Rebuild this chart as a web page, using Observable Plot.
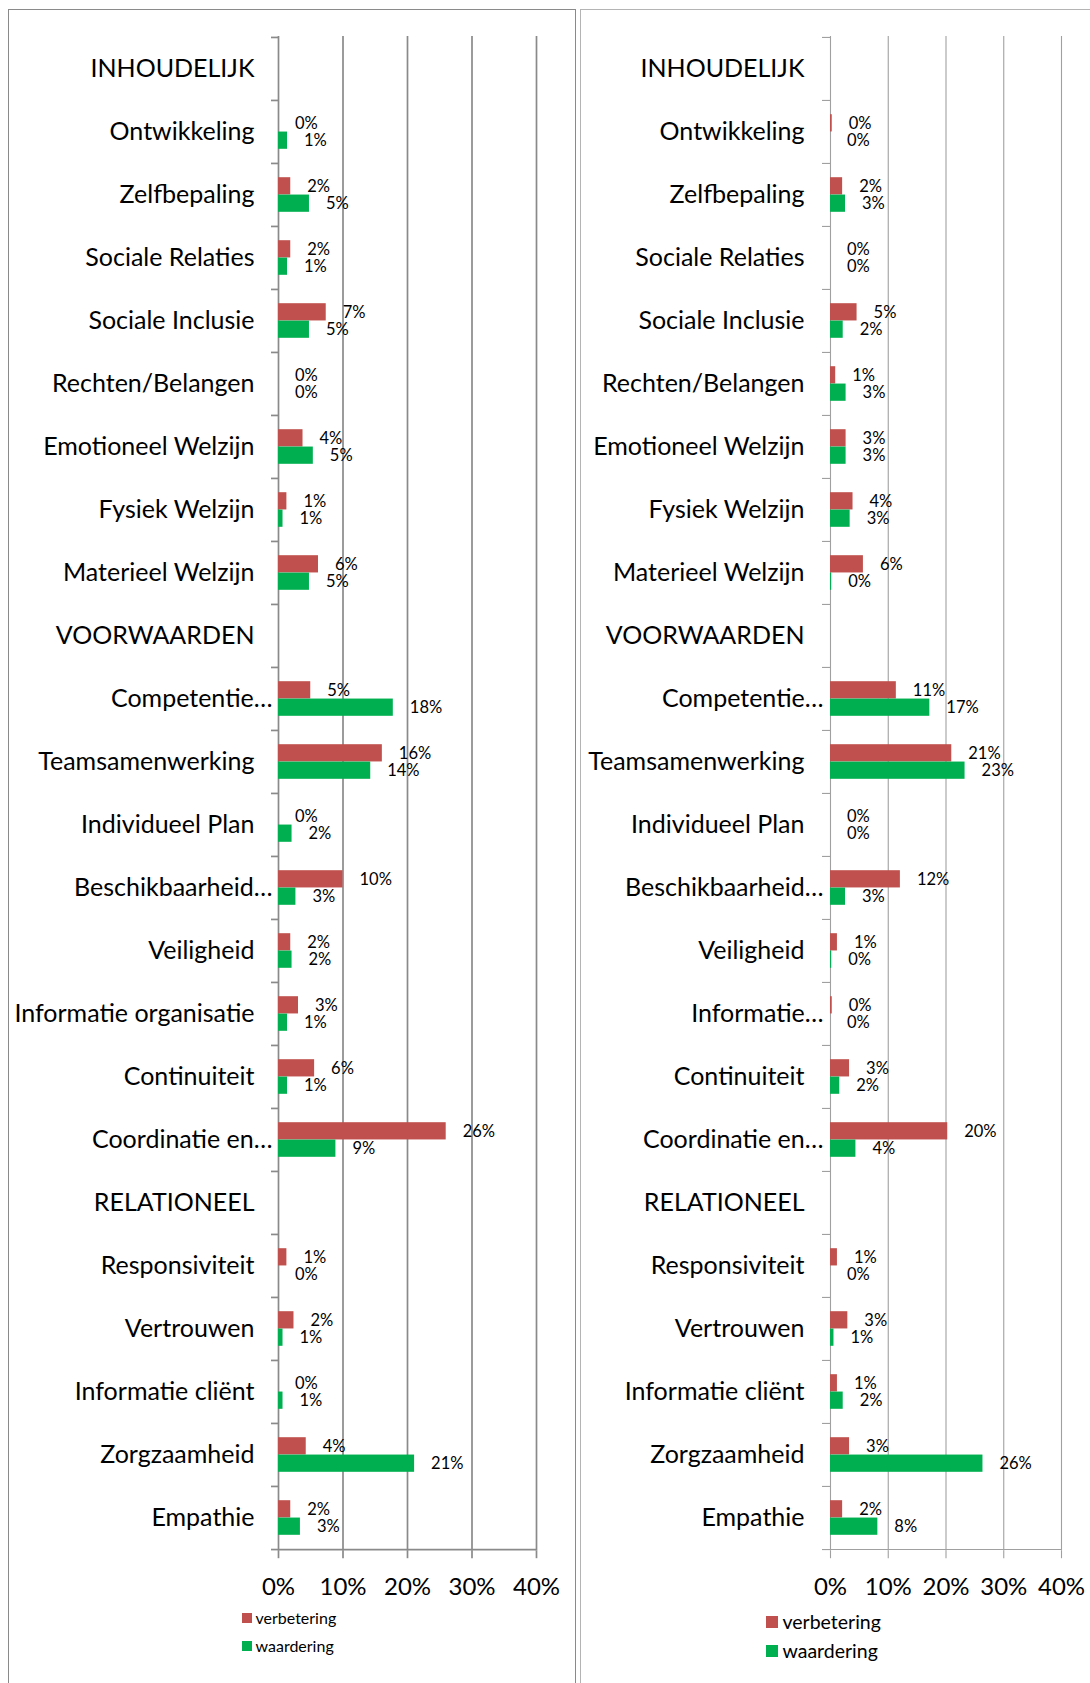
<!DOCTYPE html>
<html>
<head>
<meta charset="utf-8">
<script src="https://cdn.jsdelivr.net/npm/d3@7"></script>
<script src="https://cdn.jsdelivr.net/npm/@observablehq/plot@0.6"></script>
<style>
  html, body { margin: 0; padding: 0; background: #fff; }
  #page { position: relative; width: 1090px; height: 1683px; overflow: hidden; font-family: Lato, sans-serif; }
  .panel { position: absolute; box-sizing: border-box; }
  .chart { position: absolute; top: 0; }
  .legend { position: absolute; color: #000; }
  .legend .row { position: absolute; left: 0; white-space: nowrap; display: flex; align-items: center; }
  .legend .sw { display: inline-block; }
</style>
</head>
<body>
<div id="page">
  <div class="panel" style="left:8px; top:9px; width:568px; height:1700px; border:1.5px solid #8a8a8a; border-bottom:none;"></div>
  <div class="panel" style="left:580px; top:9px; width:540px; height:1700px; border:1.5px solid #b4b4b4; border-bottom:none;"></div>
  <div id="left" class="chart" style="left:0px;"></div>
  <div id="right" class="chart" style="left:581px;"></div>
  <div id="legL" class="legend" style="left:242px; top:1608px; font-size:16px;"></div>
  <div id="legR" class="legend" style="left:766px; top:1610px; font-size:19.5px;"></div>
</div>
<script>
// ---------- data ----------
const leftLabels = ["INHOUDELIJK","Ontwikkeling","Zelfbepaling","Sociale Relaties","Sociale Inclusie","Rechten/Belangen","Emotioneel Welzijn","Fysiek Welzijn","Materieel Welzijn","VOORWAARDEN","Competentie…","Teamsamenwerking","Individueel Plan","Beschikbaarheid…","Veiligheid","Informatie organisatie","Continuiteit","Coordinatie en…","RELATIONEEL","Responsiviteit","Vertrouwen","Informatie cliënt","Zorgzaamheid","Empathie"];
const rightLabels = ["INHOUDELIJK","Ontwikkeling","Zelfbepaling","Sociale Relaties","Sociale Inclusie","Rechten/Belangen","Emotioneel Welzijn","Fysiek Welzijn","Materieel Welzijn","VOORWAARDEN","Competentie…","Teamsamenwerking","Individueel Plan","Beschikbaarheid…","Veiligheid","Informatie…","Continuiteit","Coordinatie en…","RELATIONEEL","Responsiviteit","Vertrouwen","Informatie cliënt","Zorgzaamheid","Empathie"];

// percentages (null = section header without bars)
const leftVerbetering = [null, 0, 1.9, 1.9, 7.4, 0, 3.8, 1.3, 6.2, null, 5.0, 16.1, 0, 10.0, 1.9, 3.1, 5.6, 26.0, null, 1.3, 2.4, 0, 4.3, 1.9];
const leftWaardering  = [null, 1.4, 4.8, 1.4, 4.8, 0, 5.4, 0.7, 4.8, null, 17.8, 14.3, 2.1, 2.7, 2.1, 1.4, 1.4, 8.9, null, 0, 0.7, 0.7, 21.1, 3.4];
const rightVerbetering = [null, 0.3, 2.1, 0, 4.6, 0.9, 2.7, 3.9, 5.7, null, 11.4, 21.0, 0, 12.1, 1.2, 0.3, 3.3, 20.3, null, 1.2, 3.0, 1.2, 3.3, 2.1];
const rightWaardering  = [null, 0, 2.6, 0, 2.2, 2.7, 2.7, 3.4, 0.2, null, 17.2, 23.3, 0, 2.6, 0.2, 0, 1.6, 4.4, null, 0, 0.6, 2.2, 26.4, 8.2];

const xTicks = [0, 10, 20, 30, 40];
const seriesNames = ["verbetering", "waardering"];
const seriesColors = ["#C0504D", "#00B050"];

// ---------- drawing ----------
function panel(labels, verb, waard, opts) {
  const H = 1610, mt = 36, mb = H - 1550.7;
  const bw = (H - mt - mb) / labels.length;
  const barH = bw * 0.275;
  const gap = (bw - 2 * barH) / 2;
  const rows = labels.map((c, i) => ({cat: c, verb: verb[i], waard: waard[i]}));
  const vRows = rows.filter(d => d.verb != null);
  const wRows = rows.filter(d => d.waard != null);
  const trunc = labels.filter(l => l.endsWith("…"));
  const normal = labels.filter(l => !l.endsWith("…"));
  const fmt = v => Math.round(v) + "%";
  const g = opts.grid;
  return Plot.plot({
    width: opts.width, height: H,
    marginLeft: opts.ml, marginRight: opts.mr, marginTop: mt, marginBottom: mb,
    x: {domain: [xTicks[0], xTicks[xTicks.length - 1]]},
    y: {domain: labels, padding: 0},
    style: {fontFamily: "Lato", fontSize: "24px", color: "#000", background: "transparent", overflow: "visible"},
    marks: [
      Plot.ruleX(xTicks.slice(1), {stroke: g, strokeWidth: opts.gw}),
      Plot.ruleX([xTicks[0]], {stroke: g, strokeWidth: opts.gw}),
      Plot.ruleY([labels[labels.length - 1]], {dy: bw / 2, stroke: g, strokeWidth: opts.gw}),
      Plot.axisY({anchor: "left", tickSize: opts.ts, tickFormat: () => "", dy: -bw / 2, stroke: g, strokeWidth: opts.gw, label: null}),
      Plot.axisY({anchor: "left", ticks: [labels[labels.length - 1]], tickSize: opts.ts, tickFormat: () => "", dy: bw / 2, stroke: g, strokeWidth: opts.gw, label: null}),
      Plot.axisY({anchor: "left", ticks: normal, tickSize: 0, tickPadding: opts.pad, label: null, fontSize: 25}),
      Plot.axisY({anchor: "left", ticks: trunc, tickSize: 0, tickPadding: opts.padT, label: null, fontSize: 25}),
      Plot.axisX({anchor: "bottom", ticks: xTicks, tickSize: 7.5, tickPadding: 19, tickFormat: d => d + "%", stroke: g, strokeWidth: opts.gw, label: null, fontSize: 24}),
      Plot.barX(vRows, {y: "cat", x: "verb", fill: seriesColors[0], insetTop: gap, insetBottom: gap + barH}),
      Plot.barX(wRows, {y: "cat", x: "waard", fill: seriesColors[1], insetTop: gap + barH, insetBottom: gap}),
      Plot.text(vRows, {y: "cat", x: "verb", text: d => fmt(d.verb), dx: 16.5, dy: -barH / 2, textAnchor: "start", fontSize: 16.5, fill: "#000"}),
      Plot.text(wRows, {y: "cat", x: "waard", text: d => fmt(d.waard), dx: 16.5, dy: barH / 2, textAnchor: "start", fontSize: 16.5, fill: "#000"})
    ]
  });
}

document.getElementById("left").append(panel(leftLabels, leftVerbetering, leftWaardering,
  {width: 575, ml: 278, mr: 575 - 536, grid: "#8a8a8a", gw: 1.7, ts: 7, pad: 24, padT: 6}));
document.getElementById("right").append(panel(rightLabels, rightVerbetering, rightWaardering,
  {width: 509, ml: 249, mr: 509 - 480, grid: "#a0a0a0", gw: 1.1, ts: 8, pad: 26, padT: 7}));

function legend(id, sw, sh, gapY, gapX) {
  const el = document.getElementById(id);
  seriesNames.forEach((name, i) => {
    const row = document.createElement("div");
    row.className = "row";
    row.style.top = (i * gapY) + "px";
    const s = document.createElement("span");
    s.className = "sw";
    s.style.width = sw + "px"; s.style.height = sh + "px"; s.style.background = seriesColors[i];
    s.style.marginRight = gapX + "px";
    const t = document.createElement("span");
    t.textContent = name;
    row.append(s, t);
    el.append(row);
  });
}
legend("legL", 9.5, 10, 28, 4);
legend("legR", 11.5, 12, 29, 5);
</script>
</body>
</html>
